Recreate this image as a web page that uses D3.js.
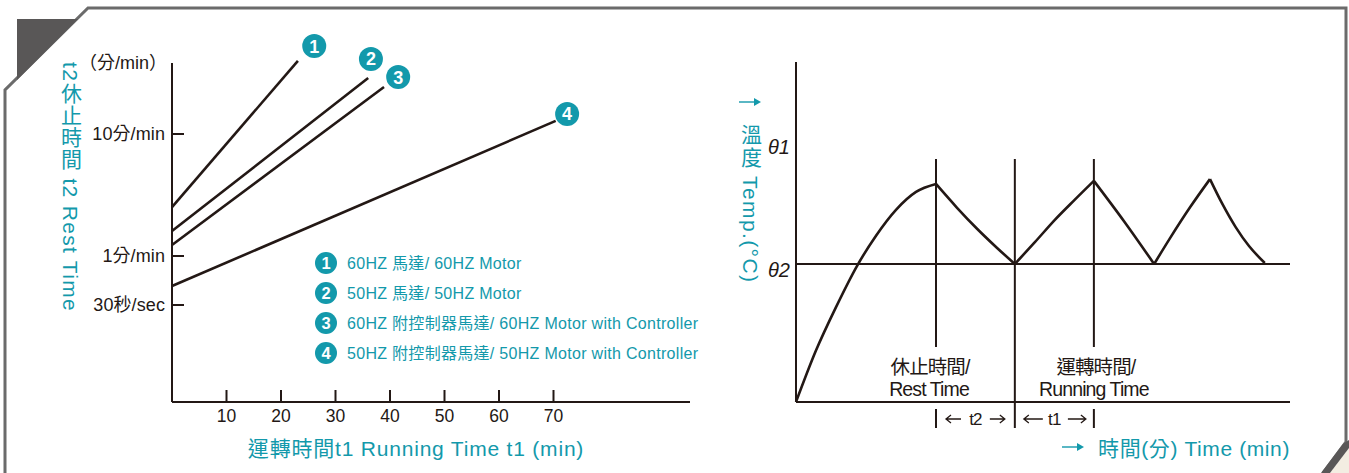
<!DOCTYPE html>
<html><head><meta charset="utf-8">
<script src="https://cdn.jsdelivr.net/npm/d3@7/dist/d3.min.js"></script>
<style>
html,body{margin:0;padding:0;background:#fff;}
svg{display:block;}
text{font-family:"Liberation Sans","Noto Sans CJK TC",sans-serif;}
</style></head>
<body>
<svg id="c" width="1349" height="473"></svg>
<script>
// ---------- DATA ----------
const seriesLabels = [
  "60HZ 馬達/ 60HZ Motor",
  "50HZ 馬達/ 50HZ Motor",
  "60HZ 附控制器馬達/ 60HZ Motor with Controller",
  "50HZ 附控制器馬達/ 50HZ Motor with Controller"
];
const seriesIds = ["1","2","3","4"];
const t1End   = [23.1, 36.0, 38.9, 70.4];     // running time at line end (min)
const t2Start = [2.52, 1.60, 1.23, 0.654];    // rest time at t1 = 0 (min)
const t2End   = [39.7, 28.8, 24.3, 12.8];     // rest time at line end (min)
const badgeT1 = [26.1, 36.5, 41.5, 72.5];
const badgeT2 = [52.6, 41.2, 29.3, 14.6];
const xTicks = [10,20,30,40,50,60,70];
const yTickValues = [0.5, 1, 10];
const yTickLabels = ["30秒/sec", "1分/min", "10分/min"];

// temperature cycle (right chart): time units, temperature units
const heat1 = {t:[0,2.02,4.05,6.17,8.1,10.12,12.15,14.17], v:[0,14.9,27.5,39.4,48.2,55.7,60.9,63.2]};
const cool1 = {t:[14.17,16.3,18.3,20.3,22.15], v:[63.2,56.3,50.3,44.8,40]};
const heat2 = {t:[22.15,24.2,26.2,28.2,30.15], v:[40,46.4,52.8,58.6,64.1]};
const cool2 = {t:[30.15,33.2,36.25], v:[64.1,52.4,40]};
const heat3 = {t:[36.25,37.86,39.9,41.9], v:[40,47.5,56.5,64.6]};
const cool3 = {t:[41.9,43.1,44.5,45.85,47.45], v:[64.6,57.7,50.7,45.2,40.3]};
const markerTimes = [14.17, 22.15, 30.15];
const theta1 = 74, theta2 = 40;

// ---------- DRAW ----------
const svg = d3.select("#c");
const teal = "#1399ab", dark = "#231815";

// frame
svg.append("path").attr("d","M5,473 L5,90 L88,8 L1346,8 L1346,442 L1323,473")
  .attr("fill","none").attr("stroke","#6b6b6b").attr("stroke-width",3);
svg.append("path").attr("d","M17,19 L78,19 L17,80 Z").attr("fill","#595757");
svg.append("path").attr("d","M1349,448 L1349,473 L1330,473 Z").attr("fill","#f3ede2");
svg.append("path").attr("d","M1343,444 L1349,440 L1349,448 L1330,473 L1321,473 Z").attr("fill","#595757");

// ---- left chart ----
const x = d3.scaleLinear().domain([0,70]).range([172,553.5]);
const y = d3.scaleLog().domain([0.5,1,10]).range([305,256,134]);
const gL = svg.append("g");
gL.append("line").attr("x1",172).attr("x2",172).attr("y1",63).attr("y2",402).attr("stroke",dark).attr("stroke-width",2);
gL.append("line").attr("x1",172).attr("x2",690).attr("y1",402).attr("y2",402).attr("stroke",dark).attr("stroke-width",2);
xTicks.forEach(v=>{
  gL.append("line").attr("x1",x(v)).attr("x2",x(v)).attr("y1",402).attr("y2",390).attr("stroke",dark).attr("stroke-width",2);
  gL.append("text").attr("x",x(v)).attr("y",416).attr("dy","0.36em").attr("text-anchor","middle").attr("font-size",17.5).attr("fill",dark).text(v);
});
yTickValues.forEach((v,i)=>{
  gL.append("line").attr("x1",172).attr("x2",184).attr("y1",y(v)).attr("y2",y(v)).attr("stroke",dark).attr("stroke-width",2);
  gL.append("text").attr("x",165).attr("y",y(v)).attr("dy","0.36em").attr("text-anchor","end").attr("font-size",18).attr("letter-spacing",0.1).attr("fill",dark).text(yTickLabels[i]);
});
gL.append("text").attr("x",167).attr("y",63).attr("dy","0.36em").attr("text-anchor","end").attr("font-size",18).attr("fill",dark).text("（分/min）");
const line = d3.line().x(d=>x(d[0])).y(d=>y(d[1]));
seriesIds.forEach((s,i)=>{
  gL.append("path").attr("d",line([[0,t2Start[i]],[t1End[i],t2End[i]]]))
    .attr("fill","none").attr("stroke",dark).attr("stroke-width",2.6);
  gL.append("circle").attr("cx",x(badgeT1[i])).attr("cy",y(badgeT2[i])).attr("r",12).attr("fill",teal);
  gL.append("text").attr("x",x(badgeT1[i])).attr("y",y(badgeT2[i])).attr("dy","0.36em").attr("text-anchor","middle")
    .attr("font-size",18).attr("font-weight","bold").attr("fill","#fff").text(s);
});
seriesLabels.forEach((lab,i)=>{
  const ly = 263 + i*30;
  gL.append("circle").attr("cx",326).attr("cy",ly).attr("r",11).attr("fill",teal);
  gL.append("text").attr("x",326).attr("y",ly).attr("dy","0.36em").attr("text-anchor","middle")
    .attr("font-size",16.5).attr("font-weight","bold").attr("fill","#fff").text(seriesIds[i]);
  gL.append("text").attr("x",347).attr("y",ly).attr("dy","0.36em").attr("font-size",16)
    .attr("letter-spacing",0.3).attr("fill",teal).text(lab);
});
gL.append("text").attr("x",416).attr("y",448).attr("dy","0.36em").attr("text-anchor","middle")
  .attr("font-size",21).attr("letter-spacing",0.8).attr("fill",teal).text("運轉時間t1 Running Time t1 (min)");
gL.append("text").attr("x",70).attr("y",62).attr("style","writing-mode:vertical-rl")
  .attr("font-size",21).attr("letter-spacing",1.3).attr("fill",teal).text("t2休止時間  t2 Rest Time");

// ---- right chart ----
const xr = d3.scaleLinear().domain([0,50]).range([796,1290]);
const yr = d3.scaleLinear().domain([0,100]).range([402,57]);
const gR = svg.append("g");
gR.append("line").attr("x1",796).attr("x2",796).attr("y1",62).attr("y2",402).attr("stroke",dark).attr("stroke-width",2);
gR.append("line").attr("x1",796).attr("x2",xr(50)).attr("y1",402).attr("y2",402).attr("stroke",dark).attr("stroke-width",2);
gR.append("line").attr("x1",796).attr("x2",xr(50)).attr("y1",yr(theta2)).attr("y2",yr(theta2)).attr("stroke",dark).attr("stroke-width",2);
gR.append("text").attr("x",790).attr("y",yr(theta1)).attr("dy","0.36em").attr("text-anchor","end").attr("font-size",20).attr("font-style","italic").attr("fill",dark).text("θ1");
gR.append("text").attr("x",790).attr("y",yr(theta2)+6).attr("dy","0.36em").attr("text-anchor","end").attr("font-size",20).attr("font-style","italic").attr("fill",dark).text("θ2");
markerTimes.forEach((t,i)=>{
  if(i===1){
    gR.append("line").attr("x1",xr(t)).attr("x2",xr(t)).attr("y1",159).attr("y2",428).attr("stroke",dark).attr("stroke-width",2);
  } else {
    gR.append("line").attr("x1",xr(t)).attr("x2",xr(t)).attr("y1",159).attr("y2",347).attr("stroke",dark).attr("stroke-width",2);
    gR.append("line").attr("x1",xr(t)).attr("x2",xr(t)).attr("y1",409).attr("y2",428).attr("stroke",dark).attr("stroke-width",2);
  }
});
const cl = d3.line().x(d=>xr(d[0])).y(d=>yr(d[1])).curve(d3.curveMonotoneX);
[heat1,cool1,heat2,cool2,heat3,cool3].forEach(seg=>{
  gR.append("path").attr("d",cl(seg.t.map((t,i)=>[t,seg.v[i]])))
    .attr("fill","none").attr("stroke",dark).attr("stroke-width",2.6).attr("stroke-linejoin","miter");
});
function lbl(xx,yy,t){
  gR.append("text").attr("x",xx).attr("y",yy).attr("dy","0.36em").attr("text-anchor","middle")
    .attr("font-size",19.5).attr("letter-spacing",-0.9).attr("fill",dark).text(t);
}
lbl(xr(markerTimes[0])-6,367,"休止時間/");
lbl(xr(markerTimes[0])-7,389,"Rest Time");
lbl(xr(markerTimes[2])+2,367,"運轉時間/");
lbl(xr(markerTimes[2]),389,"Running Time");

// arrows
function arrowOpen(x1,x2,yy,col){ // chevron head at x2
  const d = x2>x1 ? 1 : -1;
  gR.append("path").attr("d",`M${x1},${yy} L${x2},${yy} M${x2-d*5},${yy-4} L${x2},${yy} L${x2-d*5},${yy+4}`)
    .attr("fill","none").attr("stroke",col).attr("stroke-width",1.3);
}
function arrowFill(x1,x2,yy,col){
  gR.append("path").attr("d",`M${x1},${yy} L${x2-6},${yy}`).attr("stroke",col).attr("stroke-width",1.4);
  gR.append("path").attr("d",`M${x2-7},${yy-4} L${x2},${yy} L${x2-7},${yy+4} Z`).attr("fill",col);
}
const r0 = xr(markerTimes[0]), r1 = xr(markerTimes[1]), r2 = xr(markerTimes[2]);
arrowOpen(r0+25, r0+10, 419, dark);
arrowOpen(r1-25, r1-10, 419, dark);
gR.append("text").attr("x",(r0+r1)/2).attr("y",419).attr("dy","0.36em").attr("text-anchor","middle")
  .attr("font-size",17).attr("letter-spacing",-0.8).attr("fill",dark).text("t2");
arrowOpen(r1+28, r1+9, 419, dark);
arrowOpen(r2-26, r2-8, 419, dark);
gR.append("text").attr("x",(r1+r2)/2).attr("y",419).attr("dy","0.36em").attr("text-anchor","middle")
  .attr("font-size",17).attr("letter-spacing",-0.8).attr("fill",dark).text("t1");

arrowFill(1062, 1084, 447, teal);
gR.append("text").attr("x",1290).attr("y",448).attr("dy","0.36em").attr("text-anchor","end")
  .attr("font-size",21).attr("letter-spacing",0.6).attr("fill",teal).text("時間(分) Time (min)");
arrowFill(739, 761, 102, teal);
gR.append("text").attr("x",750).attr("y",124).attr("style","writing-mode:vertical-rl")
  .attr("font-size",21).attr("letter-spacing",1.4).attr("fill",teal).text("溫度 Temp.(°C)");
</script>
</body></html>
